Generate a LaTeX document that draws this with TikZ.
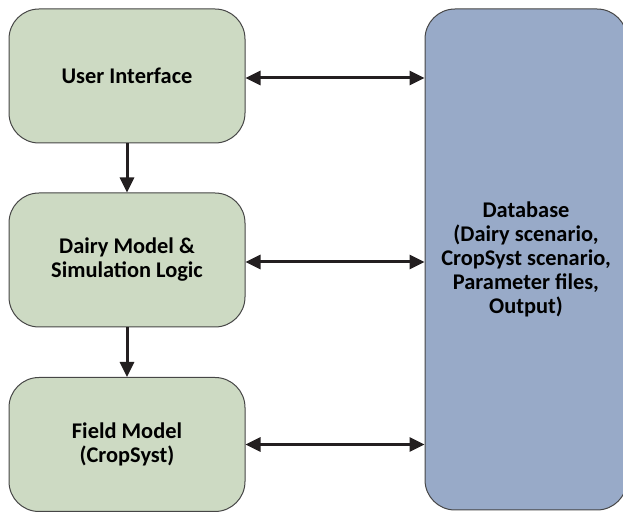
\documentclass[tikz,border=0pt]{standalone}
\usepackage{fontspec}
\setmainfont{Carlito}
\usetikzlibrary{arrows.meta}
\definecolor{modelgreen}{RGB}{205,218,195}
\definecolor{dbblue}{RGB}{152,170,200}
\definecolor{edgegray}{RGB}{70,70,70}
\definecolor{arrowblack}{RGB}{35,31,32}
\begin{document}
\begin{tikzpicture}[x=0.5pt,y=-0.5pt,
    model/.style={draw=edgegray,line width=0.5pt,fill=modelgreen,rounded corners=15pt,
      minimum width=118pt,minimum height=67pt,align=center,
      font=\bfseries\fontsize{11.2}{12}\selectfont},
    db/.style={draw=edgegray,line width=0.5pt,fill=dbblue,rounded corners=15pt,
      minimum width=101pt,minimum height=250.5pt,align=center,
      font=\bfseries\fontsize{11.2}{12}\selectfont},
    link/.style={draw=arrowblack,line width=1.5pt}]
  \useasboundingbox (0,0) rectangle (623,513);
  \draw
    (127,76) node[model] (ui) {User Interface}
    (127,260) node[model] (dairy) {Dairy Model \&\\Simulation Logic}
    (127,444.5) node[model] (field) {Field Model\\(CropSyst)}
    (526,259.5) node[db] (db) {Database\\(Dairy scenario,\\CropSyst scenario,\\Parameter files,\\Output)};
  \begin{scope}[link,-{Triangle[length=7.5pt,width=7pt]}]
    \draw (ui) to (dairy);
    \draw (dairy) to (field);
  \end{scope}
  \begin{scope}[link,{Triangle[length=7.5pt,width=7pt]}-{Triangle[length=7.5pt,width=7pt]}]
    \draw ([yshift=-1pt]ui.east) to ([yshift=-1pt]ui -| db.west);
    \draw ([yshift=-1pt]dairy.east) to ([yshift=-1pt]dairy -| db.west);
    \draw (field.east) to (field -| db.west);
  \end{scope}
\end{tikzpicture}
\end{document}
